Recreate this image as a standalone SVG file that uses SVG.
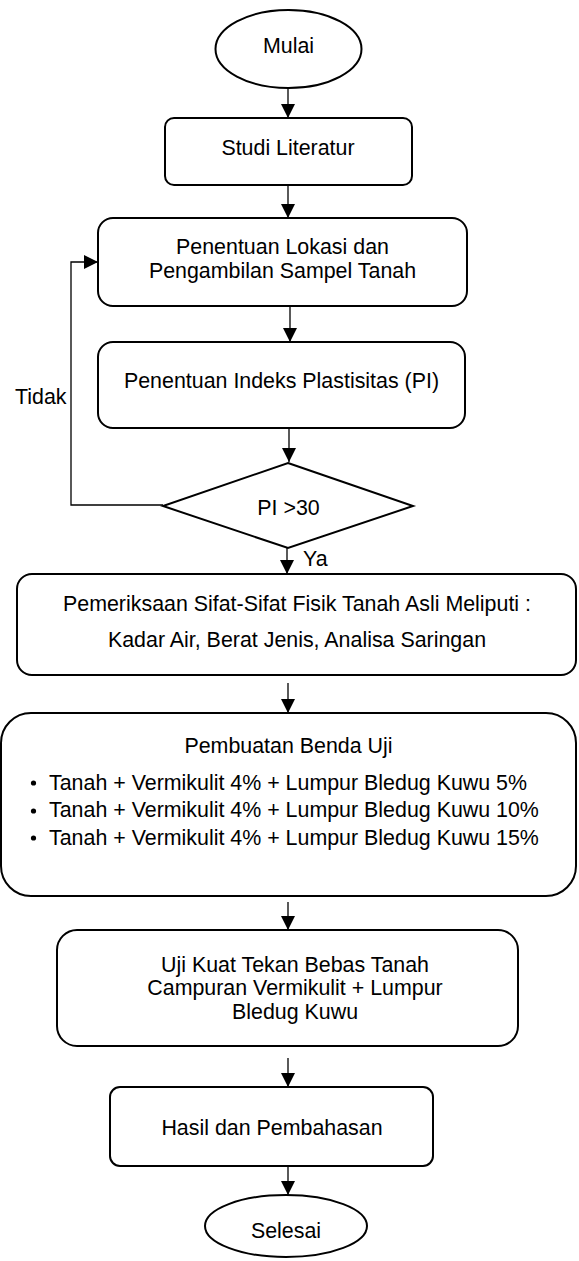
<svg xmlns="http://www.w3.org/2000/svg" width="579" height="1261" viewBox="0 0 579 1261">
<style>
.box{fill:#fff;stroke:#000;stroke-width:2}
.t{font-family:"Liberation Sans",Arial,sans-serif;font-size:21.4px;fill:#000}
.m{text-anchor:middle}
.c{fill:none;stroke:#000;stroke-width:1.3}
</style>
<defs>
<marker id="ah" viewBox="0 0 14 14" refX="14" refY="7" markerWidth="14" markerHeight="14" markerUnits="userSpaceOnUse" orient="auto">
<path d="M0,0 L14,7 L0,14 z" fill="#000"/>
</marker>
</defs>
<rect width="579" height="1261" fill="#fff"/>
<g id="connectors">
<line class="c" x1="288" y1="88" x2="288" y2="118" marker-end="url(#ah)"/>
<line class="c" x1="288" y1="185" x2="288" y2="218" marker-end="url(#ah)"/>
<line class="c" x1="290" y1="306" x2="290" y2="342" marker-end="url(#ah)"/>
<line class="c" x1="289" y1="428" x2="289" y2="462" marker-end="url(#ah)"/>
<polyline class="c" points="163,505 71,505 71,262 98,262" marker-end="url(#ah)"/>
<line class="c" x1="287" y1="543" x2="287" y2="574" marker-end="url(#ah)"/>
<line class="c" x1="288" y1="683" x2="288" y2="713" marker-end="url(#ah)"/>
<line class="c" x1="288" y1="902" x2="288" y2="930" marker-end="url(#ah)"/>
<line class="c" x1="288" y1="1058" x2="288" y2="1087" marker-end="url(#ah)"/>
<line class="c" x1="288" y1="1166" x2="288" y2="1195" marker-end="url(#ah)"/>
<text class="t" x="15" y="404">Tidak</text>
<text class="t" x="303" y="566">Ya</text>
</g>
<g id="mulai">
<ellipse class="box" cx="288.5" cy="49" rx="73" ry="39"/>
<text class="t m" x="288.5" y="53">Mulai</text>
</g>
<g id="studi">
<rect class="box" x="165" y="118" width="247" height="67" rx="9"/>
<text class="t m" x="288" y="155">Studi Literatur</text>
</g>
<g id="lokasi">
<rect class="box" x="98" y="218" width="369" height="88" rx="15"/>
<text class="t m" x="282.5" y="254">Penentuan Lokasi dan</text>
<text class="t m" x="282.5" y="278">Pengambilan Sampel Tanah</text>
</g>
<g id="indeks">
<rect class="box" x="98" y="342" width="367" height="86" rx="15"/>
<text class="t m" x="281.5" y="388">Penentuan Indeks Plastisitas (PI)</text>
</g>
<g id="keputusan">
<polygon class="box" points="288,463 413,506 288,548 163,506"/>
<text class="t m" x="288.5" y="515">PI &gt;30</text>
</g>
<g id="pemeriksaan">
<rect class="box" x="17" y="574" width="559" height="101" rx="15"/>
<text class="t m" x="297" y="611">Pemeriksaan Sifat-Sifat Fisik Tanah Asli Meliputi :</text>
<text class="t m" x="297" y="647">Kadar Air, Berat Jenis, Analisa Saringan</text>
</g>
<g id="pembuatan">
<rect class="box" x="1" y="713" width="575" height="183" rx="30"/>
<text class="t m" x="288.5" y="753">Pembuatan Benda Uji</text>
<circle cx="33.5" cy="783" r="2.6" fill="#000"/>
<circle cx="33.5" cy="811" r="2.6" fill="#000"/>
<circle cx="33.5" cy="838" r="2.6" fill="#000"/>
<text class="t" x="49" y="790">Tanah + Vermikulit 4% + Lumpur Bledug Kuwu 5%</text>
<text class="t" x="49" y="817">Tanah + Vermikulit 4% + Lumpur Bledug Kuwu 10%</text>
<text class="t" x="49" y="845">Tanah + Vermikulit 4% + Lumpur Bledug Kuwu 15%</text>
</g>
<g id="uji">
<rect class="box" x="57" y="930" width="461" height="116" rx="20"/>
<text class="t m" x="295" y="972">Uji Kuat Tekan Bebas Tanah</text>
<text class="t m" x="295" y="995">Campuran Vermikulit + Lumpur</text>
<text class="t m" x="295" y="1019">Bledug Kuwu</text>
</g>
<g id="hasil">
<rect class="box" x="110" y="1087" width="323" height="79" rx="10"/>
<text class="t m" x="272" y="1135">Hasil dan Pembahasan</text>
</g>
<g id="selesai">
<ellipse class="box" cx="286" cy="1226" rx="81" ry="31"/>
<text class="t m" x="286" y="1238">Selesai</text>
</g>
</svg>
